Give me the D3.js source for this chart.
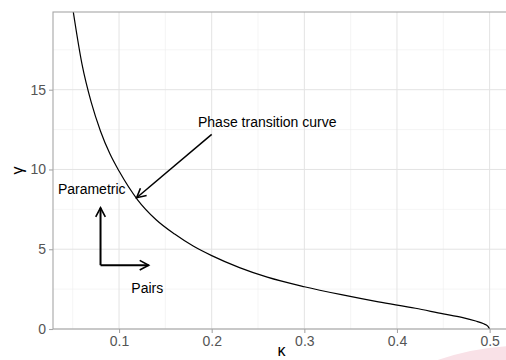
<!DOCTYPE html>
<html>
<head>
<meta charset="utf-8">
<script src="https://cdn.jsdelivr.net/npm/d3@7"></script>
<style>
  body { margin: 0; background: #fff; }
  svg { display: block; font-family: "Liberation Sans", Arial, sans-serif; }
</style>
</head>
<body>
<svg id="chart" width="506" height="360"></svg>
<script>
// phase transition curve
const kappa = [0.050, 0.060, 0.070, 0.080, 0.090, 0.100, 0.120, 0.140, 0.160, 0.180, 0.200, 0.230, 0.260, 0.300, 0.340, 0.380, 0.420, 0.450, 0.470, 0.485, 0.493, 0.498, 0.500];
const gamma = [20.1, 16.6, 14.2, 12.4, 11.0, 9.9, 8.1, 6.85, 5.95, 5.2, 4.6, 3.85, 3.25, 2.65, 2.15, 1.7, 1.3, 0.95, 0.73, 0.50, 0.34, 0.18, 0.00];

const xTicks = [0.1, 0.2, 0.3, 0.4, 0.5];
const xMinor = [0.05, 0.15, 0.25, 0.35, 0.45];
const yTicks = [0, 5, 10, 15];
const yMinor = [2.5, 7.5, 12.5, 17.5];

const labels = [
    {text: "Phase transition curve", k: 0.26, g: 13.0},
    {text: "Parametric", k: 0.0705, g: 8.75},
    {text: "Pairs", k: 0.1305, g: 2.55}
];
// arrows: from -> to
const arrows = [
    {k1: 0.200, g1: 12.2, k2: 0.119, g2: 8.23, w: 1.5},
    {k1: 0.080, g1: 4.0, k2: 0.080, g2: 7.6, w: 2},
    {k1: 0.080, g1: 4.0, k2: 0.132, g2: 4.0, w: 2}
];

const svg = d3.select("#chart");
const pLeft = 53, pRight = 510, pTop = 12, pBottom = 329;

const x = d3.scaleLinear().domain([0.0287, 0.522]).range([pLeft, pRight]);
const y = d3.scaleLinear().domain([0, 19.87]).range([pBottom, pTop]);

// watermark swoosh bottom right
svg.append("path")
    .attr("d", "M 432 362 Q 470 348 510 346 L 510 362 Z")
    .attr("fill", "#f9e1e7");

const g = svg.append("g");

// grid
g.selectAll(".xminor").data(xMinor).join("line")
    .attr("x1", d => x(d)).attr("x2", d => x(d))
    .attr("y1", pTop).attr("y2", pBottom)
    .attr("stroke", "#efefef").attr("stroke-width", 0.6);
g.selectAll(".yminor").data(yMinor).join("line")
    .attr("x1", pLeft).attr("x2", pRight)
    .attr("y1", d => y(d)).attr("y2", d => y(d))
    .attr("stroke", "#efefef").attr("stroke-width", 0.6);
g.selectAll(".xmajor").data(xTicks).join("line")
    .attr("x1", d => x(d)).attr("x2", d => x(d))
    .attr("y1", pTop).attr("y2", pBottom)
    .attr("stroke", "#e3e3e3").attr("stroke-width", 1);
g.selectAll(".ymajor").data(yTicks).join("line")
    .attr("x1", pLeft).attr("x2", pRight)
    .attr("y1", d => y(d)).attr("y2", d => y(d))
    .attr("stroke", "#e3e3e3").attr("stroke-width", 1);

// curve
const clip = svg.append("clipPath").attr("id", "clip");
clip.append("rect").attr("x", pLeft).attr("y", pTop).attr("width", pRight - pLeft).attr("height", pBottom - pTop);

const line = d3.line()
    .x(i => x(kappa[i]))
    .y(i => y(gamma[i]))
    .curve(d3.curveMonotoneX);

g.append("path")
    .attr("clip-path", "url(#clip)")
    .attr("d", line(d3.range(kappa.length)))
    .attr("fill", "none")
    .attr("stroke", "#000")
    .attr("stroke-width", 1.2);

// arrows
svg.append("defs").append("marker")
    .attr("id", "head")
    .attr("markerUnits", "userSpaceOnUse")
    .attr("viewBox", "-10 -6 12 12")
    .attr("refX", 0).attr("refY", 0)
    .attr("markerWidth", 12).attr("markerHeight", 12)
    .attr("orient", "auto")
    .append("path")
    .attr("d", "M -9 -4.8 L 0 0 L -9 4.8")
    .attr("fill", "none")
    .attr("stroke", "#000")
    .attr("stroke-width", 1.6);

g.selectAll(".arrow").data(arrows).join("line")
    .attr("x1", d => x(d.k1)).attr("y1", d => y(d.g1))
    .attr("x2", d => x(d.k2)).attr("y2", d => y(d.g2))
    .attr("stroke", "#000")
    .attr("stroke-width", d => d.w)
    .attr("marker-end", "url(#head)");

// labels
g.selectAll(".lab").data(labels).join("text")
    .attr("x", d => x(d.k))
    .attr("y", d => y(d.g))
    .attr("text-anchor", "middle")
    .attr("dominant-baseline", "central")
    .attr("font-size", 14)
    .attr("fill", "#000")
    .text(d => d.text);

// panel border
svg.append("rect")
    .attr("x", pLeft).attr("y", pTop)
    .attr("width", pRight - pLeft).attr("height", pBottom - pTop)
    .attr("fill", "none")
    .attr("stroke", "#a6a6a6")
    .attr("stroke-width", 1.1);

// axes
const xAxis = svg.append("g")
    .attr("transform", `translate(0,${pBottom})`)
    .call(d3.axisBottom(x).tickValues(xTicks).tickSize(4).tickPadding(3).tickFormat(d3.format(".1f")));
const yAxis = svg.append("g")
    .attr("transform", `translate(${pLeft},0)`)
    .call(d3.axisLeft(y).tickValues(yTicks).tickSize(4).tickPadding(3));
[xAxis, yAxis].forEach(a => {
    a.select(".domain").remove();
    a.selectAll(".tick line").attr("stroke", "#a6a6a6").attr("stroke-width", 1.1);
    a.selectAll(".tick text")
        .attr("fill", "#555")
        .attr("font-size", 14)
        .attr("font-family", "Liberation Sans, Arial, sans-serif");
});

// axis titles
svg.append("text")
    .attr("x", (pLeft + pRight) / 2)
    .attr("y", 356)
    .attr("text-anchor", "middle")
    .attr("font-size", 16)
    .text("κ");
svg.append("text")
    .attr("transform", `translate(23,${(pTop + pBottom) / 2}) rotate(-90)`)
    .attr("text-anchor", "middle")
    .attr("font-size", 16)
    .text("γ");
</script>
</body>
</html>
